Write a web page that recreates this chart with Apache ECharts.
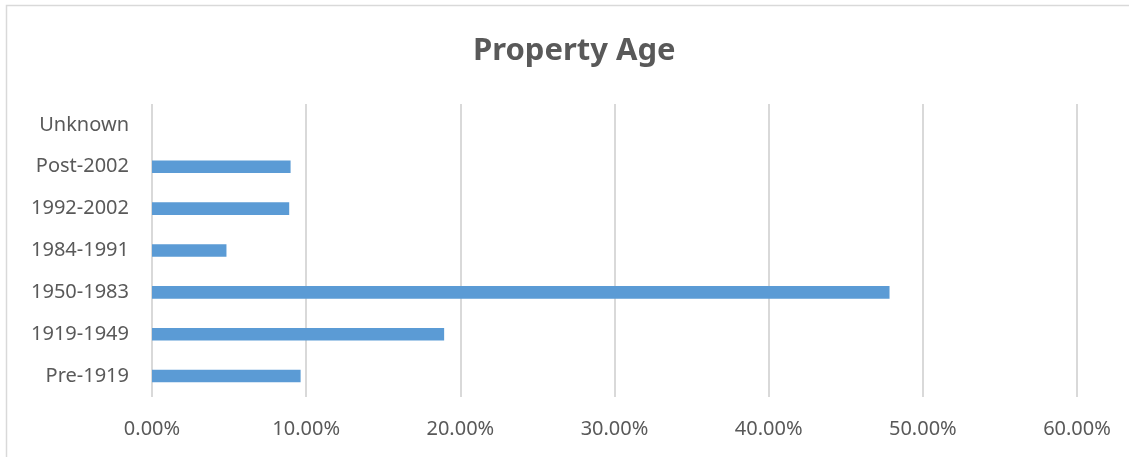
<!DOCTYPE html>
<html>
<head>
<meta charset="utf-8">
<script src="https://cdn.jsdelivr.net/npm/echarts@6/dist/echarts.min.js"></script>
<style>
html,body{margin:0;padding:0;background:#fff;}
#chart{width:1129px;height:457px;}
</style>
</head>
<body>
<div id="chart"></div>
<script>
const categories = ['Pre-1919', '1919-1949', '1950-1983', '1984-1991', '1992-2002', 'Post-2002', 'Unknown'];
const shareValues = [0.0964, 0.1895, 0.4784, 0.0483, 0.0890, 0.0899, 0];
const xTicks = [0, 0.1, 0.2, 0.3, 0.4, 0.5, 0.6];

const chart = echarts.init(document.getElementById('chart'));
const font = 'Noto Sans';
chart.setOption({
  animation: false,
  backgroundColor: '#fff',
  title: {
    text: 'Property Age',
    left: 468,
    top: 31,
    textStyle: { fontFamily: font, fontSize: 31, fontWeight: 'bold', color: '#595959' }
  },
  graphic: [{
    type: 'rect',
    shape: { x: 6.5, y: 5.5, width: 1130, height: 460 },
    style: { fill: 'none', stroke: '#d9d9d9', lineWidth: 1.5 },
    silent: true
  }],
  grid: { left: 152, right: 52, top: 104, bottom: 60, containLabel: false },
  xAxis: {
    type: 'value',
    min: xTicks[0],
    max: xTicks[xTicks.length - 1],
    interval: 0.1,
    axisLine: { show: false },
    axisTick: { show: false },
    splitLine: { show: true, lineStyle: { color: '#d9d9d9', width: 2 } },
    axisLabel: {
      margin: 22,
      fontFamily: font,
      fontSize: 20,
      color: '#595959',
      formatter: v => (v * 100).toFixed(2) + '%'
    }
  },
  yAxis: {
    type: 'category',
    data: categories,
    axisLine: { show: false },
    axisTick: { show: false },
    axisLabel: { margin: 23, fontFamily: font, fontSize: 20, color: '#595959' }
  },
  series: [{
    type: 'bar',
    data: shareValues,
    barWidth: '30%',
    itemStyle: { color: '#5b9bd5', borderWidth: 0 }
  }]
});
</script>
</body>
</html>
